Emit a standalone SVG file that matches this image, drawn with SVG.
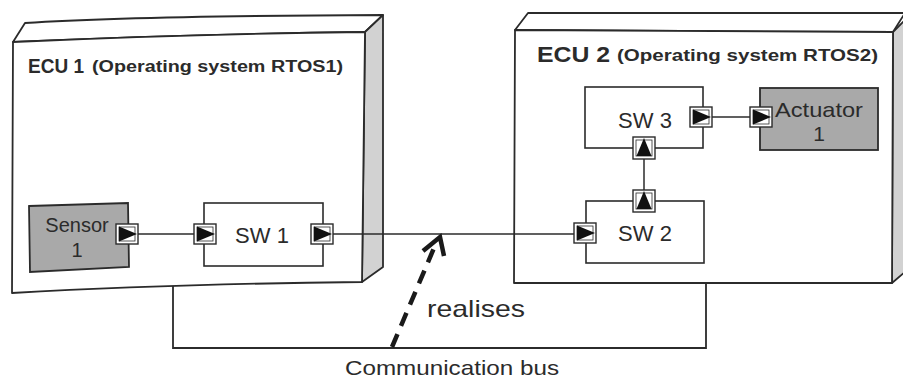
<svg xmlns="http://www.w3.org/2000/svg" width="903" height="381" viewBox="0 0 903 381">
  <style>
    .outline { fill: #ffffff; stroke: #2b2b2b; stroke-width: 1.8; stroke-linejoin: round; }
    .side { fill: #d2d2d2; stroke: #2b2b2b; stroke-width: 1.8; stroke-linejoin: round; }
    .device { fill: #a9a9a9; stroke: #2b2b2b; stroke-width: 1.8; }
    .sw { fill: #ffffff; stroke: #2b2b2b; stroke-width: 1.6; }
    .wire { fill: none; stroke: #2b2b2b; stroke-width: 1.5; }
    .bus { fill: none; stroke: #2b2b2b; stroke-width: 1.8; }
    .port { fill: #ffffff; stroke: #2b2b2b; stroke-width: 1.4; }
    .port-in { fill: none; stroke: #2b2b2b; stroke-width: 0.8; }
    .head { fill: #111111; }
    .real { fill: none; stroke: #1a1a1a; stroke-width: 4.5; }
    text { font-family: "Liberation Sans", Arial, sans-serif; fill: #2b2b2b; }
    .title { font-weight: bold; }
    .lbl { text-anchor: middle; }
  </style>
  <defs>
    <!-- port with a right-pointing flow arrow, centred on 0,0 -->
    <g id="port-r">
      <rect class="port" x="-11" y="-10" width="22" height="20"/>
      <rect class="port-in" x="-8" y="-7" width="16" height="14"/>
      <path class="head" d="M-8,-7.5 L10,0 L-8,7.5 Z"/>
    </g>
    <g id="port-u">
      <rect class="port" x="-11" y="-11" width="22" height="22"/>
      <rect class="port-in" x="-8" y="-8" width="16" height="16"/>
      <path class="head" d="M-7.5,8 L0,-10 L7.5,8 Z"/>
    </g>
  </defs>

  <!-- ECU 1 node (3D box) -->
  <g id="ecu1">
    <path class="outline" d="M13,42 L25,23 Q130,16 383,15 L365,32 Q200,34 13,42 Z"/>
    <path class="side" d="M365,32 L383,15 L383,267 L362,282 Z"/>
    <path class="outline" d="M13,42 Q200,34 365,32 L362,282 Q170,284 12,293 Z"/>
    <text class="title" x="28" y="73" font-size="20" textLength="56" lengthAdjust="spacingAndGlyphs">ECU 1</text>
    <text class="title" x="92" y="72" font-size="16" textLength="251" lengthAdjust="spacingAndGlyphs">(Operating system RTOS1)</text>
  </g>

  <!-- ECU 2 node (3D box) -->
  <g id="ecu2">
    <path class="outline" d="M515,30 L528,13 L905,13 L893,32 Z"/>
    <path class="side" d="M893,32 L905,20 L905,272 L892,283 Z"/>
    <path class="outline" d="M515,30 L893,32 L892,283 L514,283 Z"/>
    <text class="title" x="537" y="62" font-size="22" textLength="73" lengthAdjust="spacingAndGlyphs">ECU 2</text>
    <text class="title" x="617" y="61" font-size="16.5" textLength="261" lengthAdjust="spacingAndGlyphs">(Operating system RTOS2)</text>
  </g>

  <!-- communication bus -->
  <g id="bus">
    <path class="bus" d="M173,286 L173,348 L706,348 L706,283"/>
    <text class="lbl" x="452" y="375" font-size="21" textLength="214" lengthAdjust="spacingAndGlyphs">Communication bus</text>
  </g>

  <!-- components -->
  <g id="sensor1">
    <path class="device" d="M29,206 L128,203 L129,267 L30,272 Z"/>
    <text class="lbl" x="77" y="232" font-size="20">Sensor</text>
    <text class="lbl" x="77" y="257" font-size="20">1</text>
  </g>
  <g id="sw1">
    <rect class="sw" x="204" y="203" width="119" height="63"/>
    <text class="lbl" x="262" y="243" font-size="22">SW 1</text>
  </g>
  <g id="sw2">
    <rect class="sw" x="586" y="201" width="118" height="62"/>
    <text class="lbl" x="645" y="241" font-size="22">SW 2</text>
  </g>
  <g id="sw3">
    <rect class="sw" x="585" y="87" width="118" height="61"/>
    <text class="lbl" x="645" y="128" font-size="22">SW 3</text>
  </g>
  <g id="actuator1">
    <rect class="device" x="760" y="88" width="118" height="62"/>
    <text class="lbl" x="819" y="117" font-size="21" textLength="88" lengthAdjust="spacingAndGlyphs">Actuator</text>
    <text class="lbl" x="819" y="141" font-size="21">1</text>
  </g>

  <!-- connectors -->
  <g id="connectors">
    <path class="wire" d="M138,234 L194,234"/>
    <path class="wire" d="M333,234 L574,234"/>
    <path class="wire" d="M712,117 L750,117"/>
    <path class="wire" d="M644,190 L644,159"/>

    <use href="#port-r" x="127" y="234"/>
    <use href="#port-r" x="205" y="234"/>
    <use href="#port-r" x="322" y="234"/>
    <use href="#port-r" x="585" y="233"/>
    <use href="#port-r" x="701" y="117"/>
    <use href="#port-r" x="761" y="117"/>
    <use href="#port-u" x="644" y="148"/>
    <use href="#port-u" x="644" y="201"/>

    <!-- "realises" dependency from the bus to the signal -->
    <path class="real" d="M392,347 L434,248" stroke-dasharray="14 9"/>
    <path class="real" d="M423,251 L440,237 L444,256" stroke-linejoin="miter"/>
    <text x="427" y="317" font-size="24" textLength="98" lengthAdjust="spacingAndGlyphs">realises</text>
  </g>
</svg>
